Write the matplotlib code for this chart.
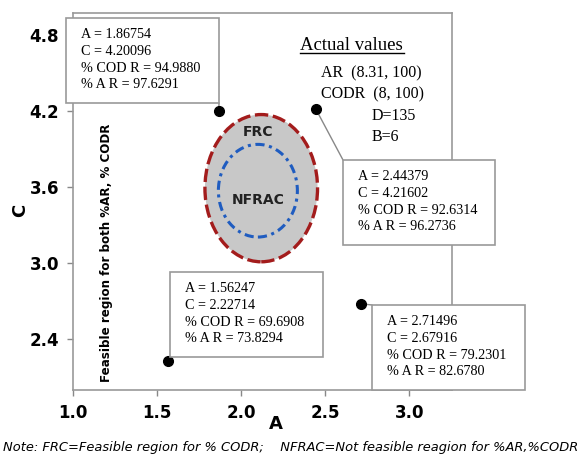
import matplotlib
matplotlib.use("Agg")
import matplotlib.pyplot as plt
from matplotlib.patches import Ellipse, Rectangle
from matplotlib.lines import Line2D

# optimum points (A, C) and responses
pt_a = [1.86754, 2.44379, 1.56247, 2.71496]
pt_c = [4.20096, 4.21602, 2.22714, 2.67916]
cod_r = [94.9880, 92.6314, 69.6908, 79.2301]
ar_r = [97.6291, 96.2736, 73.8294, 82.6780]

x_ticks = [1.0, 1.5, 2.0, 2.5, 3.0]
y_ticks = [2.4, 3.0, 3.6, 4.2, 4.8]

# feasible / not-feasible regions (centre A, centre C, width, height)
frc = (2.12, 3.59, 0.67, 1.16)
nfrac = (2.10, 3.57, 0.47, 0.73)

W, H = 583, 454


def fx(x):
    return x / W


def fy(y):
    return 1 - y / H


fig = plt.figure(figsize=(W / 100, H / 100), dpi=100)
ax = fig.add_axes([fx(73), fy(390), (452 - 73) / W, (390 - 13) / H])
ax.set_xlim(1.0, 3.255)
ax.set_ylim(2.0, 4.97)

ax.add_patch(Ellipse(frc[:2], frc[2], frc[3], facecolor="#c8c8c8",
                     edgecolor="#a31c1c", lw=2.4, ls=(0, (4, 1.4)), zorder=2))
ax.add_patch(Ellipse(nfrac[:2], nfrac[2], nfrac[3], facecolor="none",
                     edgecolor="#1f5cc0", lw=2.2, ls=(0, (3, 1.5, 1, 1.5)), zorder=3))
ax.text(2.10, 4.03, "FRC", ha="center", va="center", fontsize=10, weight="bold",
        color="#222222", family="DejaVu Sans", zorder=4)
ax.text(2.10, 3.50, "NFRAC", ha="center", va="center", fontsize=10, weight="bold",
        color="#222222", family="DejaVu Sans", zorder=4)

ax.plot(pt_a, pt_c, "o", color="black", ms=7, zorder=5)

ax.set_xticks(x_ticks, [f"{v:.1f}" for v in x_ticks])
ax.set_yticks(y_ticks, [f"{v:.1f}" for v in y_ticks])
ax.tick_params(labelsize=12, color="#888888", length=4, width=1, pad=6)
for lab in ax.get_xticklabels() + ax.get_yticklabels():
    lab.set_fontweight("bold")
for sp in ax.spines.values():
    sp.set_color("#999999")
    sp.set_linewidth(1.2)

fig.text(fx(20), fy(210), "C", rotation=90, ha="center", va="center",
         fontsize=13, weight="bold")
fig.text(fx(276), fy(424), "A", ha="center", va="center", fontsize=13, weight="bold")
fig.text(fx(107), fy(253), "Feasible region for both %AR, % CODR", rotation=90,
         ha="center", va="center", fontsize=8.6, weight="bold")

# annotation boxes: (left, top, right, bottom) in pixels, leader end
boxes = [(66, 18, 219, 103, (219, 103)),
         (343, 160, 495, 245, (343, 160)),
         (170, 272, 323, 357, (170, 357)),
         (372, 305, 525, 390, (372, 305))]
for i, (l, t, r, b, end) in enumerate(boxes):
    ax.annotate("", xy=(pt_a[i], pt_c[i]), xycoords="data",
                xytext=(fx(end[0]), fy(end[1])), textcoords="figure fraction",
                arrowprops=dict(arrowstyle="-", color="#888888", lw=1,
                                shrinkA=0, shrinkB=0))
    fig.add_artist(Rectangle((fx(l), fy(b)), (r - l) / W, (b - t) / H,
                             transform=fig.transFigure, facecolor="white",
                             edgecolor="#999999", lw=1.2, zorder=6))
    txt = (f"A = {pt_a[i]:.5f}\nC = {pt_c[i]:.5f}\n"
           f"% COD R = {cod_r[i]:.4f}\n% A R = {ar_r[i]:.4f}")
    fig.text(fx(l + 15), fy(t + 10), txt, ha="left", va="top", fontsize=10.2,
             family="Liberation Serif", linespacing=1.38, zorder=7)

# actual values block
fig.text(fx(300), fy(45), "Actual values", ha="left", va="center", fontsize=13.5,
         family="Liberation Serif")
fig.add_artist(Line2D([fx(300), fx(404)], [fy(53), fy(53)], color="black", lw=1,
                      transform=fig.transFigure))
fig.text(fx(321), fy(73), "AR  (8.31, 100)", ha="left", va="center", fontsize=11.5,
         family="Liberation Serif")
fig.text(fx(321), fy(94), "CODR  (8, 100)", ha="left", va="center", fontsize=11.5,
         family="Liberation Serif")
fig.text(fx(372), fy(116), "D=135", ha="left", va="center", fontsize=11.5,
         family="Liberation Serif")
fig.text(fx(372), fy(137), "B=6", ha="left", va="center", fontsize=11.5,
         family="Liberation Serif")

fig.text(fx(291), fy(447),
         "Note: FRC=Feasible region for % CODR;    NFRAC=Not feasible reagion for %AR,%CODR",
         ha="center", va="center", fontsize=9.35, style="italic", family="DejaVu Sans")

fig.savefig("out.png", dpi=100)
